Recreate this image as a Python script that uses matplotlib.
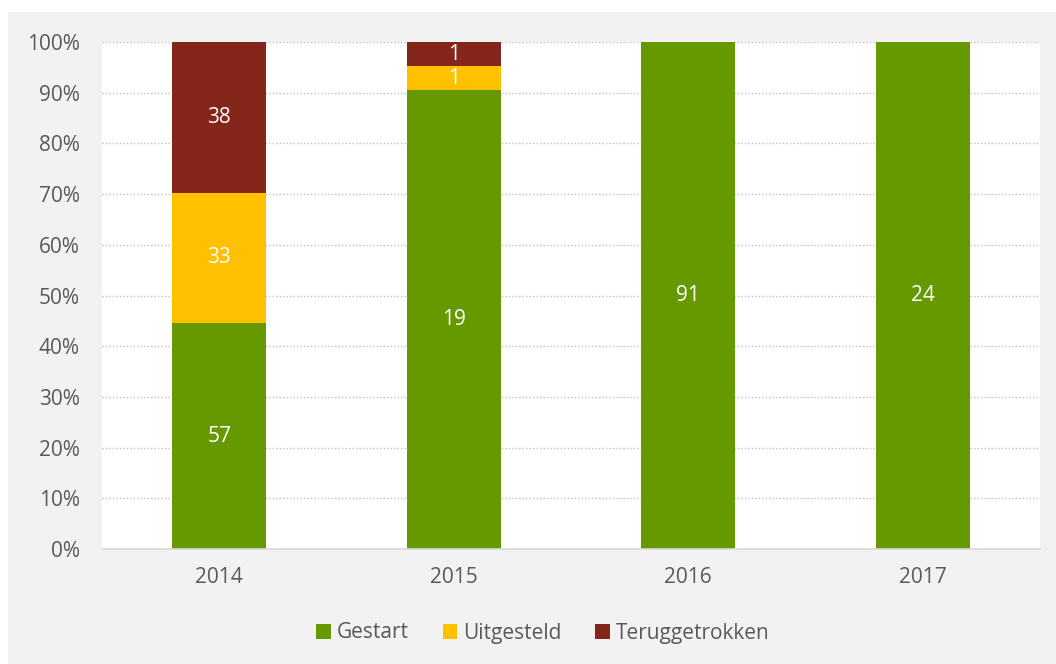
import matplotlib.pyplot as plt
from matplotlib.patches import Rectangle
import numpy as np

plt.rcParams['font.family'] = ['Open Sans', 'DejaVu Sans']

years = ["2014", "2015", "2016", "2017"]
gestart = [57, 19, 91, 24]
uitgesteld = [33, 1, 0, 0]
teruggetrokken = [38, 1, 0, 0]

series = [("Gestart", gestart, '#669900'),
          ("Uitgesteld", uitgesteld, '#ffc000'),
          ("Teruggetrokken", teruggetrokken, '#84261a')]

counts = np.array([s[1] for s in series], dtype=float)
pct = counts / counts.sum(axis=0) * 100

fig = plt.figure(figsize=(10.56, 6.64), dpi=100, facecolor='white')
fig.patches.append(Rectangle((8/1056, 0), 1 - 8/1056, 652/664, transform=fig.transFigure,
                             facecolor='#f2f2f2', edgecolor='none', zorder=-10))
ax = fig.add_axes([102/1056, 115/664, 938/1056, 507/664])
ax.set_facecolor('white')

x = np.arange(len(years))
bottom = np.zeros(len(years))
for i, (name, vals, col) in enumerate(series):
    ax.bar(x, pct[i], 0.4, bottom=bottom, color=col, label=name, zorder=2)
    for j, v in enumerate(vals):
        if v > 0:
            ax.text(x[j], bottom[j] + pct[i][j] / 2, str(v), ha='center', va='center',
                    color='white', fontsize=15, zorder=3)
    bottom += pct[i]

ax.set_xlim(-0.5, len(years) - 0.5)
ax.set_ylim(0, 100)
ax.set_yticks(np.arange(0, 101, 10))
ax.set_yticklabels([f"{t}%" for t in range(0, 101, 10)])
ax.set_xticks(x)
ax.set_xticklabels(years)
ax.yaxis.grid(True, linestyle=(0, (1, 1.5)), color='#bfbfbf', linewidth=1, zorder=0)
for s in ['top', 'right', 'left']:
    ax.spines[s].set_visible(False)
ax.spines['bottom'].set_color('#d9d9d9')
ax.spines['bottom'].set_linewidth(1.2)
ax.tick_params(axis='both', length=0, labelsize=15, labelcolor='#595959')
ax.tick_params(axis='x', pad=13)
ax.tick_params(axis='y', pad=16)

fig.legend(loc='center', bbox_to_anchor=(543/1056, 31/664), ncol=3, frameon=False,
           fontsize=15, labelcolor='#595959', handlelength=0.7, handleheight=0.7,
           handletextpad=0.3, columnspacing=1.6)

fig.savefig('out.png', dpi=100, facecolor=fig.get_facecolor())
